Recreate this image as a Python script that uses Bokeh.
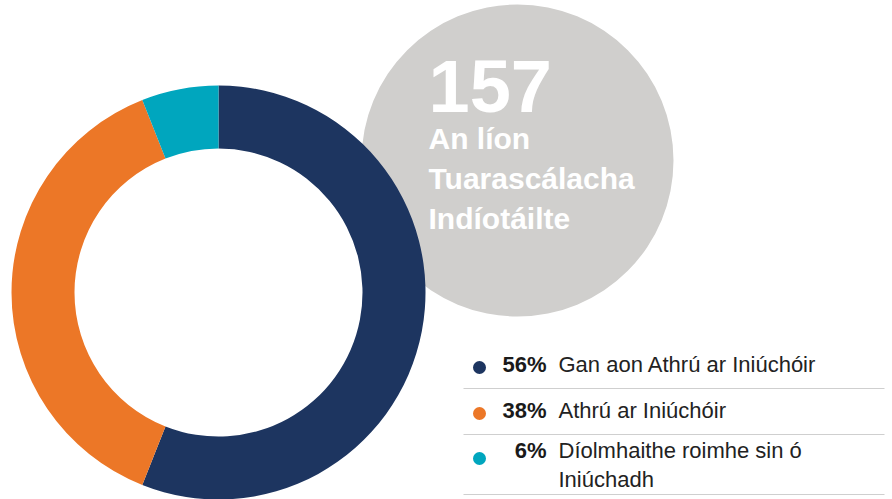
import math
from bokeh.plotting import figure
from bokeh.models import Range1d
from bokeh.core.properties import value
from bokeh.embed import file_html
from bokeh.resources import INLINE

# ---- data ----
categories = ["Gan aon Athrú ar Iniúchóir", "Athrú ar Iniúchóir", "Díolmhaithe roimhe sin ó Iniúchadh"]
label_lines = [["Gan aon Athrú ar Iniúchóir"], ["Athrú ar Iniúchóir"], ["Díolmhaithe roimhe sin ó", "Iniúchadh"]]
percents = [56, 38, 6]
colors = ["#1D3560", "#EC7727", "#00A6BE"]
total_value = "157"
title_lines = ["An líon", "Tuarascálacha", "Indíotáilte"]

W, H = 892, 499


def X(sx):
    return sx


def Y(sy):
    return H - sy


p = figure(width=W, height=H, output_backend="svg", toolbar_location=None,
           x_range=Range1d(0, W), y_range=Range1d(0, H), min_border=0)
p.axis.visible = False
p.grid.visible = False
p.outline_line_color = None
p.background_fill_color = "white"
p.border_fill_color = "white"

FONT = value("Liberation Sans")

# gray circle
p.circle(x=[X(517)], y=[Y(160)], radius=156, fill_color="#D0CFCD", line_color=None)

# donut
cx, cy = X(218), Y(292)
tot = sum(percents)
cum = 0.0
starts, ends = [], []
for v in percents:
    starts.append(math.pi / 2 - 2 * math.pi * cum / tot)
    cum += v
    ends.append(math.pi / 2 - 2 * math.pi * cum / tot)
p.annular_wedge(x=[cx] * 3, y=[cy] * 3, inner_radius=144, outer_radius=207,
                start_angle=starts, end_angle=ends, direction="clock",
                fill_color=colors, line_color=None)

# big number + caption
p.text(x=[X(428)], y=[Y(85)], text=[total_value], text_font=FONT, text_font_style="bold",
       text_font_size="74px", text_color="white", text_baseline="alphabetic")
p.text(x=[X(428)] * 3, y=[Y(138), Y(178), Y(218)], text=title_lines, text_font=FONT,
       text_font_style="bold", text_font_size="30px", text_color="white", text_baseline="alphabetic")

# legend
row_base = [364, 410, 450]
dot_y = [367, 413, 458]
sep_y = [388, 434, 494]
for i in range(3):
    p.scatter(x=[X(479)], y=[Y(dot_y[i])], size=13, marker="circle", fill_color=colors[i], line_color=None)
    p.text(x=[X(546)], y=[Y(row_base[i])], text=[f"{percents[i]}%"], text_font=FONT, text_font_style="bold",
           text_font_size="22px", text_color="#1A1A1A", text_align="right", text_baseline="alphabetic")
    for j, ln in enumerate(label_lines[i]):
        p.text(x=[X(558)], y=[Y(row_base[i] + 29 * j)], text=[ln], text_font=FONT,
               text_font_size="22px", text_color="#222222", text_baseline="alphabetic")
    p.segment(x0=[X(463)], y0=[Y(sep_y[i])], x1=[X(884)], y1=[Y(sep_y[i])], line_color="#CFCFCF", line_width=1)

open("out.html", "w").write(file_html(p, INLINE))
